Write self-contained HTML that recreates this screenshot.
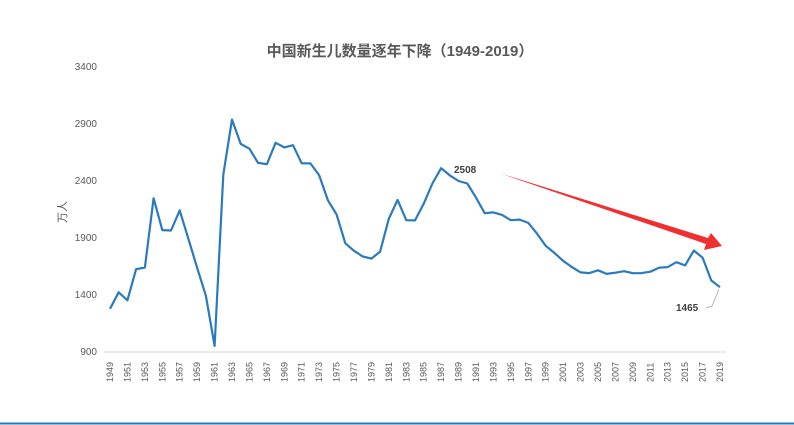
<!DOCTYPE html>
<html><head><meta charset="utf-8"><style>
body{margin:0;background:#fff;width:794px;height:425px;overflow:hidden}
svg{display:block}
text{font-family:"Liberation Sans","Noto Sans CJK SC",sans-serif}
</style></head><body>
<svg id="s" width="794" height="425" xmlns="http://www.w3.org/2000/svg">
<text x="400" y="56" text-anchor="middle" font-size="15" font-weight="bold" fill="#595959">中国新生儿数量逐年下降（1949-2019）</text>
<g font-size="10" fill="#595959" text-anchor="end">
<text x="97" y="70">3400</text><text x="97" y="127">2900</text><text x="97" y="184">2400</text>
<text x="97" y="241">1900</text><text x="97" y="298">1400</text><text x="97" y="355">900</text>
</g>
<text transform="translate(66,212) rotate(-90)" font-size="11" fill="#595959" text-anchor="middle">万人</text>
<line x1="104" y1="352" x2="726" y2="352" stroke="#d9d9d9" stroke-width="1"/>
<g id="xl" font-size="9" fill="#595959"></g>
<polyline id="ln" fill="none" stroke="#2a7abf" stroke-width="2.2" stroke-linejoin="round"/>
<text x="454" y="173" font-size="10" font-weight="bold" fill="#404040">2508</text>
<text x="676" y="311" font-size="10" font-weight="bold" fill="#404040">1465</text>
<polyline points="706,308 712,306 719,289" fill="none" stroke="#a6a6a6" stroke-width="0.8"/>
<polygon points="499,173 708,238 711,233 722,246 704,250 706,244" fill="#f03030"/>
<line x1="0" y1="423.5" x2="794" y2="423.5" stroke="#2e75b6" stroke-width="2"/>
</svg>
<script>
var d=[1275,1419,1349,1622,1637,2245,1965,1961,2138,1889,1635,1389,949,2451,2934,2721,2679,2554,2543,2731,2690,2710,2551,2550,2447,2226,2102,1849,1783,1733,1715,1776,2064,2230,2052,2050,2196,2374,2508,2445,2396,2374,2250,2113,2120,2098,2052,2057,2028,1934,1827,1765,1696,1641,1594,1588,1612,1581,1591,1604,1587,1588,1600,1635,1640,1683,1655,1786,1723,1523,1465];
var p=[];for(var i=0;i<d.length;i++){p.push((110+i*8.714).toFixed(1)+","+(351.5-(d[i]-900)*0.114).toFixed(1));}
document.getElementById("ln").setAttribute("points",p.join(" "));
var g=document.getElementById("xl"),h="";
for(var i=0;i<d.length;i+=2){var x=110+i*8.714+3;h+='<text transform="translate('+x.toFixed(1)+',382) rotate(-90)">'+(1949+i)+'</text>';}
g.innerHTML=h;
</script>
</body></html>
